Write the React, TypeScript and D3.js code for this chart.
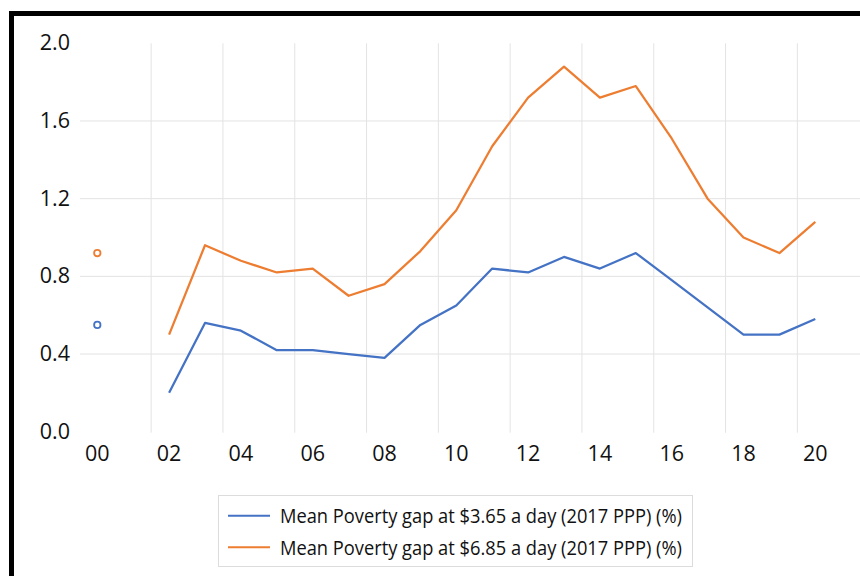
import React from "react";
import * as d3 from "d3";

const years: number[] = [2000, 2001, 2002, 2003, 2004, 2005, 2006, 2007, 2008, 2009, 2010, 2011, 2012, 2013, 2014, 2015, 2016, 2017, 2018, 2019, 2020];
const gap365: (number | null)[] = [0.55, null, 0.20, 0.56, 0.52, 0.42, 0.42, 0.40, 0.38, 0.55, 0.65, 0.84, 0.82, 0.90, 0.84, 0.92, 0.78, 0.64, 0.50, 0.50, 0.58];
const gap685: (number | null)[] = [0.92, null, 0.50, 0.96, 0.88, 0.82, 0.84, 0.70, 0.76, 0.93, 1.14, 1.47, 1.72, 1.88, 1.72, 1.78, 1.51, 1.20, 1.00, 0.92, 1.08];
const yTicks: number[] = [0, 0.4, 0.8, 1.2, 1.6, 2.0];
const xTickYears: number[] = [2000, 2002, 2004, 2006, 2008, 2010, 2012, 2014, 2016, 2018, 2020];
const seriesNames: string[] = [
  "Mean Poverty gap at $3.65 a day (2017 PPP) (%)",
  "Mean Poverty gap at $6.85 a day (2017 PPP) (%)",
];
const colors: string[] = ["#4472C4", "#ED7D31"];

const FONT = "'Open Sans', 'Noto Sans', sans-serif";

export default function App() {
  const x = d3.scaleLinear().domain([2000, 2020]).range([97.3, 815.3]);
  const y = d3.scaleLinear().domain([0, 2]).range([431.7, 43.3]);
  const plotLeft = 80;
  const plotRight = 860;

  const series = [gap365, gap685];
  const lineGen = d3
    .line<number | null>()
    .defined((d) => d !== null)
    .x((_, i) => x(years[i]))
    .y((d) => y(d as number));

  const isolated = (vals: (number | null)[]) =>
    vals
      .map((v, i) => ({ v, i }))
      .filter(
        ({ v, i }) =>
          v !== null && (i === 0 || vals[i - 1] === null) && (i === vals.length - 1 || vals[i + 1] === null)
      );

  const vGrid = xTickYears.slice(0, -1).map((yr) => yr + 1.5);

  return (
    <svg
      width={860}
      height={576}
      style={{ position: "absolute", left: 0, top: 0, background: "#fff" }}
    >
      <rect x={0} y={0} width={860} height={576} fill="#fff" />
      <rect x={11.5} y={13.5} width={900} height={620} fill="none" stroke="#000" strokeWidth={5} />

      {yTicks
        .filter((t) => t > 0 && t < 2)
        .map((t) => (
          <line key={"h" + t} x1={plotLeft} x2={plotRight} y1={y(t)} y2={y(t)} stroke="#e3e3e3" strokeWidth={1} />
        ))}
      {vGrid.map((g) => (
        <line key={"v" + g} x1={x(g)} x2={x(g)} y1={y(2)} y2={y(0) + 1} stroke="#e3e3e3" strokeWidth={1} />
      ))}

      {yTicks.map((t) => (
        <text
          key={"yl" + t}
          x={70}
          y={y(t) - 1.5}
          textAnchor="end"
          dominantBaseline="central"
          fontFamily={FONT}
          fontSize={21.5}
          fill="#111"
        >
          {t.toFixed(1)}
        </text>
      ))}

      {xTickYears.map((yr) => (
        <text
          key={"xl" + yr}
          x={x(yr)}
          y={461}
          textAnchor="middle"
          fontFamily={FONT}
          fontSize={21.5}
          fill="#111"
        >
          {String(yr % 100).padStart(2, "0")}
        </text>
      ))}

      {series.map((vals, si) => (
        <g key={"s" + si}>
          <path d={lineGen(vals) || ""} fill="none" stroke={colors[si]} strokeWidth={2.25} strokeLinejoin="round" />
          {isolated(vals).map(({ v, i }) => (
            <circle
              key={"c" + i}
              cx={x(years[i])}
              cy={y(v as number)}
              r={3.2}
              fill="#fff"
              stroke={colors[si]}
              strokeWidth={1.8}
            />
          ))}
        </g>
      ))}

      <rect x={218.5} y={495.5} width={474} height={71} fill="#fff" stroke="#dcdcdc" strokeWidth={1} />
      {seriesNames.map((name, i) => (
        <g key={"lg" + i}>
          <line x1={228} x2={270} y1={515.7 + i * 31.6} y2={515.7 + i * 31.6} stroke={colors[i]} strokeWidth={2} />
          <text
            x={280}
            y={515.7 + i * 31.6}
            dominantBaseline="central"
            fontFamily={FONT}
            fontSize={19.5}
            fill="#111"
            textLength={402}
            lengthAdjust="spacingAndGlyphs"
          >
            {name}
          </text>
        </g>
      ))}
    </svg>
  );
}
